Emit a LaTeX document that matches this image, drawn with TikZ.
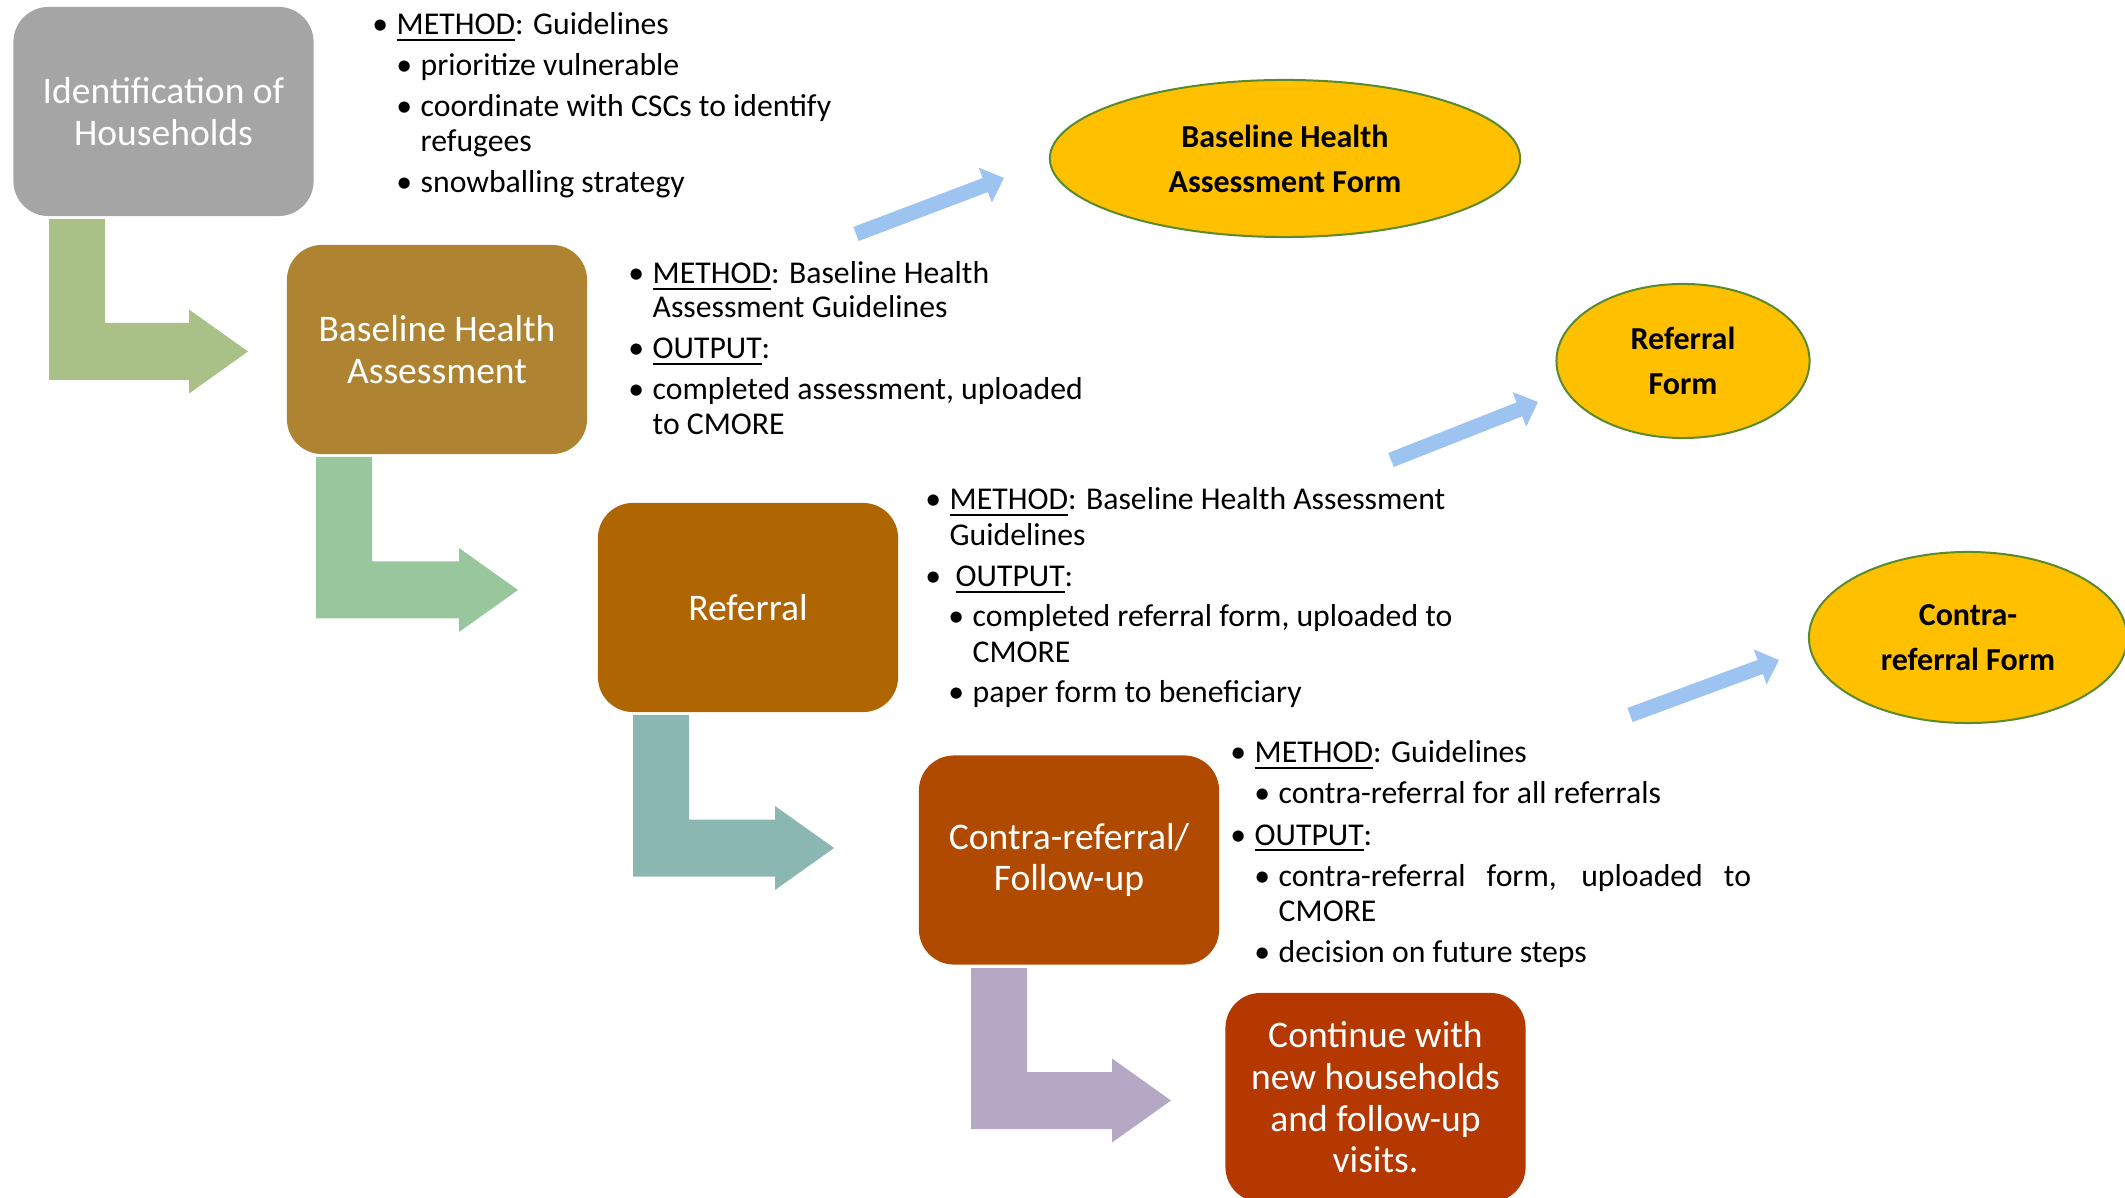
\documentclass[tikz,border=0pt]{standalone}
\usepackage{fontspec}
\setmainfont{Carlito}
\usetikzlibrary{shapes.geometric,arrows.meta}
\definecolor{cgrey}{HTML}{A5A5A5}
\definecolor{cbha}{HTML}{AE8332}
\definecolor{cref}{HTML}{AF6501}
\definecolor{ccon}{HTML}{B04A00}
\definecolor{ccont}{HTML}{B43800}
\definecolor{aone}{HTML}{A9C186}
\definecolor{atwo}{HTML}{98C79E}
\definecolor{athree}{HTML}{8AB7B2}
\definecolor{afour}{HTML}{B4A8C4}
\definecolor{formfill}{HTML}{FFC000}
\definecolor{formline}{HTML}{5A8A2E}
\definecolor{bluea}{HTML}{9DC3F0}
\newcommand\myBent[5]{\fill[#1] (#2,#3) -- (#2+56,#3) -- (#2+56,#5-28.5) -- (#4-59,#5-28.5) -- (#4-59,#5-42) -- (#4,#5) -- (#4-59,#5+42) -- (#4-59,#5+28.5) -- (#2,#5+28.5) -- cycle;}
\newcommand\bul{\llap{\textbullet\hspace{0.085cm}}}
\begin{document}
\begin{tikzpicture}[x=0.01cm,y=-0.01cm,
  procbox/.style={rectangle, rounded corners=0.35cm, minimum width=3cm, minimum height=2.09cm, text=white, align=center, font=\fontsize{10.68}{11.85}\selectfont, inner sep=0},
  formnode/.style={ellipse, fill=formfill, draw=formline, line width=0.02cm, align=center, font=\bfseries\fontsize{9.1}{12.8}\selectfont, inner sep=0},
  txt/.style={anchor=base west, inner sep=0, font=\fontsize{9.02}{10}\selectfont},
  bluearr/.style={draw=bluea, line width=0.15cm, -{Triangle[length=0.2cm,width=0.36cm]}}]
\useasboundingbox (0,0) rectangle (2125,1198);
\clip (0,0) rectangle (2125,1198);
% boxes
\node[procbox, fill=cgrey] (ident) at (163.5,111.5) {Identification of\\Households};
\node[procbox, fill=cbha] (bha) at (437,349.5) {Baseline Health\\Assessment};
\node[procbox, fill=cref] (ref) at (748,607.5) {Referral};
\node[procbox, fill=ccon] (con) at (1069,860) {Contra-referral/\\Follow-up};
\node[procbox, fill=ccont] (cont) at (1375.5,1097.5) {Continue with\\new households\\and follow-up\\visits.};
% bent arrows
\myBent{aone}{49}{219}{248}{351.5}
\myBent{atwo}{316}{457}{518}{590}
\myBent{athree}{633}{715}{834}{848}
\myBent{afour}{971}{968}{1171}{1100.5}
% forms
\node[formnode, minimum width=4.7cm, minimum height=1.57cm] (fbha) at (1285,158.5) {Baseline Health\\Assessment Form};
\node[formnode, minimum width=2.53cm, minimum height=1.54cm] (fref) at (1683,361) {Referral\\Form};
\node[formnode, minimum width=3.18cm, minimum height=1.71cm] (fcon) at (1968,637.5) {Contra-\\referral Form};
% blue arrows
\coordinate (bas) at (856,234); \coordinate (bae) at (1004,178);
\coordinate (bbs) at (1391,460); \coordinate (bbe) at (1538,402);
\coordinate (bcs) at (1630,715); \coordinate (bce) at (1779,660);
\draw[bluearr] (bas) -- (bae);
\draw[bluearr] (bbs) -- (bbe);
\draw[bluearr] (bcs) -- (bce);
% block 1
\node[txt] (t11) at (396,35) {\bul\underline{METHOD}: Guidelines};
\node[txt] (t12) at (420,76) {\bul prioritize vulnerable};
\node[txt] (t13) at (420,117) {\bul coordinate with CSCs to identify};
\node[txt] (t14) at (420,152) {refugees};
\node[txt] (t15) at (420,193) {\bul snowballing strategy};
% block 2
\node[txt] (t21) at (652,284) {\bul\underline{METHOD}: Baseline Health};
\node[txt] (t22) at (652,318) {Assessment Guidelines};
\node[txt] (t23) at (652,359) {\bul\underline{OUTPUT}:};
\node[txt] (t24) at (652,400) {\bul completed assessment, uploaded};
\node[txt] (t25) at (652,435) {to CMORE};
% block 3
\node[txt] (t31) at (949,510) {\bul\underline{METHOD}: Baseline Health Assessment};
\node[txt] (t32) at (949,546) {Guidelines};
\node[txt] (t33) at (955,587) {\llap{\textbullet\hspace{0.145cm}}\underline{OUTPUT}:};
\node[txt] (t34) at (972,627) {\bul completed referral form, uploaded to};
\node[txt] (t35) at (972,663) {CMORE};
\node[txt] (t36) at (972,703) {\bul paper form to beneficiary};
% block 4
\node[txt] (t41) at (1254,763) {\bul\underline{METHOD}: Guidelines};
\node[txt] (t42) at (1278,804) {\bul contra-referral for all referrals};
\node[txt] (t43) at (1254,845) {\bul\underline{OUTPUT}:};
\node[txt] (t44) at (1278,886) {\bul\makebox[4.72cm][s]{contra-referral form, uploaded to}};
\node[txt] (t45) at (1278,921) {CMORE};
\node[txt] (t46) at (1278,962) {\bul decision on future steps};
\end{tikzpicture}
\end{document}
